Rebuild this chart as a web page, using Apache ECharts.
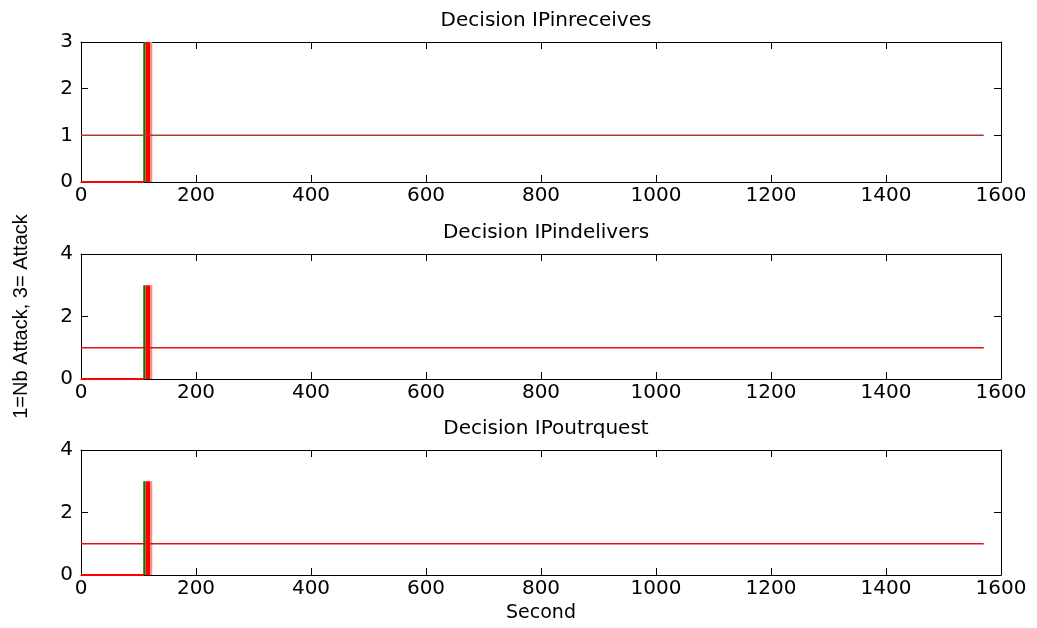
<!DOCTYPE html>
<html>
<head>
<meta charset="utf-8">
<script src="https://cdn.jsdelivr.net/npm/echarts@6/dist/echarts.min.js"></script>
<style>html,body{margin:0;padding:0;background:#fff}#c{width:1037px;height:628px}</style>
</head>
<body>
<div id="c"></div>
<script>
// ---- data ----
const panelTitles = ['Decision IPinreceives', 'Decision IPindelivers', 'Decision IPoutrquest'];
const yMax = [3, 4, 4];
const yStep = [1, 2, 2];
const xMax = 1600;
const xStep = 200;
// decision level 1 (no attack) after the transient
const baseTime = [0, 1570];
const baseLevel = [1, 1];
// decision 0 before first evaluation
const quietTime = [0, 110];
const quietLevel = [0, 0];
// green alarm trace
const alarmTime = [110, 110];
const alarmLevel = [0, 3];
// attack burst (level 3)
const attackTime = [112, 120];
const attackLevel = [3, 3];
const fadeTime = [120, 124];
const fadeLevel = [3, 3];
const baseColors = ['#b03838', '#e81010', '#e81010'];

// ---- layout ----
const gridTops = [42, 254, 450];
const gridHeights = [140, 125, 125];
const FONT = 'DejaVu Sans';

function pairs(xs, ys) { return xs.map((x, k) => [x, ys[k]]); }

const grids = [], xAxes = [], yAxes = [], series = [], titles = [];
const axisLineStyle = { show: true, onZero: false, lineStyle: { color: '#000', width: 1 } };

panelTitles.forEach((t, i) => {
  grids.push({ left: 81, right: 36, top: gridTops[i], height: gridHeights[i], containLabel: false, outerBoundsMode: 'none' });
  titles.push({
    text: t, left: 541, textAlign: 'center', top: gridTops[i] - 36,
    textStyle: { fontFamily: FONT, fontSize: 20, fontWeight: 'normal', color: '#000' }
  });
  xAxes.push({
    gridIndex: i, type: 'value', min: 0, max: xMax, interval: xStep, position: 'bottom',
    axisLine: axisLineStyle, axisTick: { inside: true, length: 7, lineStyle: { color: '#000' } },
    axisLabel: { fontFamily: FONT, fontSize: 20, color: '#000', margin: 4, formatter: v => String(v) },
    splitLine: { show: false },
    name: i === 2 ? 'Second' : '', nameLocation: 'middle', nameGap: 29,
    nameTextStyle: { fontFamily: FONT, fontSize: 19, color: '#000' }
  });
  xAxes.push({
    gridIndex: i, type: 'value', min: 0, max: xMax, interval: xStep, position: 'top',
    axisLine: axisLineStyle, axisTick: { inside: true, length: 7, lineStyle: { color: '#000' } },
    axisLabel: { show: false }, splitLine: { show: false }
  });
  yAxes.push({
    gridIndex: i, type: 'value', min: 0, max: yMax[i], interval: yStep[i], position: 'left',
    axisLine: axisLineStyle, axisTick: { inside: true, length: 7, lineStyle: { color: '#000' } },
    axisLabel: { fontFamily: FONT, fontSize: 20, color: '#000', margin: 8 },
    splitLine: { show: false },
    name: i === 1 ? '1=Nb Attack, 3= Attack' : '', nameLocation: 'middle', nameGap: 50,
    nameTextStyle: { fontFamily: 'Liberation Sans', fontSize: 20, color: '#000' }
  });
  yAxes.push({
    gridIndex: i, type: 'value', min: 0, max: yMax[i], interval: yStep[i], position: 'right',
    axisLine: axisLineStyle, axisTick: { inside: true, length: 7, lineStyle: { color: '#000' } },
    axisLabel: { show: false }, splitLine: { show: false }
  });
  const ax = { xAxisIndex: 2 * i, yAxisIndex: 2 * i, type: 'line', showSymbol: false, symbol: 'none', silent: true };
  series.push(Object.assign({}, ax, {
    data: pairs(attackTime, attackLevel), lineStyle: { width: 0, color: '#ff0000' },
    areaStyle: { color: '#ff0000', opacity: 1 }, z: 2
  }));
  series.push(Object.assign({}, ax, {
    data: pairs(fadeTime, fadeLevel), lineStyle: { width: 0, color: '#ff8c8c' },
    areaStyle: { color: '#ff8c8c', opacity: 1 }, z: 2
  }));
  series.push(Object.assign({}, ax, {
    data: pairs(alarmTime, alarmLevel), lineStyle: { width: 2, color: '#007a00' }, z: 3
  }));
  series.push(Object.assign({}, ax, {
    data: pairs(quietTime, quietLevel), lineStyle: { width: 2, color: '#ff0000' }, z: 4
  }));
  series.push(Object.assign({}, ax, {
    data: pairs(baseTime, baseLevel), lineStyle: { width: 1.5, color: baseColors[i] }, z: 5
  }));
});

const chart = echarts.init(document.getElementById('c'));
chart.setOption({
  animation: false,
  backgroundColor: '#fff',
  title: titles,
  grid: grids,
  xAxis: xAxes,
  yAxis: yAxes,
  series: series
});
</script>
</body>
</html>
